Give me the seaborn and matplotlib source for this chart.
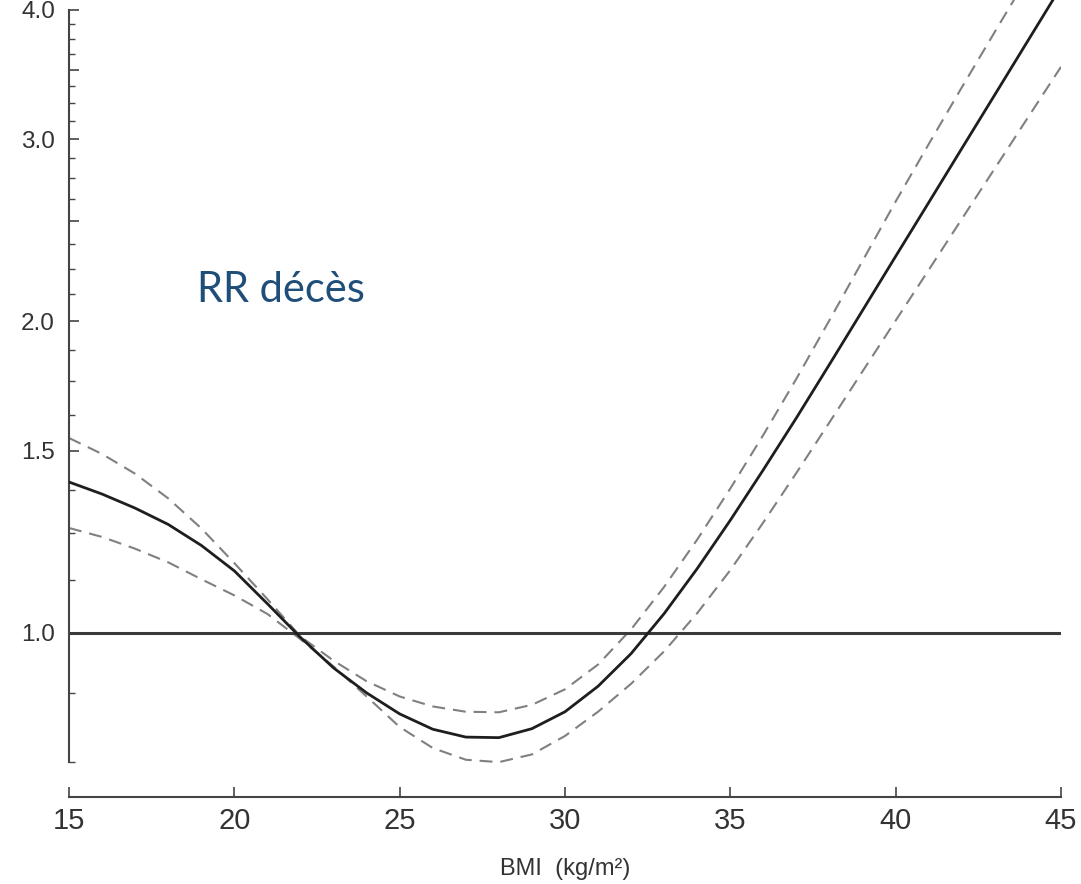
import matplotlib
matplotlib.use("Agg")
import matplotlib.pyplot as plt
import pandas as pd
import seaborn as sns

# BMI grid and relative risk of death (point estimate + 95% CI)
bmi = list(range(15, 46))
rr = [1.399, 1.362, 1.320, 1.273, 1.215, 1.148, 1.067, 0.990, 0.925, 0.875,
      0.835, 0.807, 0.793, 0.792, 0.808, 0.839, 0.888, 0.955, 1.044, 1.154,
      1.285, 1.438, 1.614, 1.818, 2.050, 2.312, 2.606, 2.939, 3.313, 3.736, 4.212]
rr_hi = [1.543, 1.489, 1.425, 1.349, 1.262, 1.168, 1.078, 0.992, 0.940, 0.898,
         0.868, 0.849, 0.839, 0.838, 0.852, 0.882, 0.932, 1.008, 1.108, 1.231,
         1.379, 1.554, 1.761, 2.006, 2.289, 2.612, 2.968, 3.367, 3.811, 4.310, 4.874]
rr_lo = [1.263, 1.238, 1.206, 1.170, 1.127, 1.087, 1.043, 0.986, 0.928, 0.868,
         0.811, 0.774, 0.754, 0.750, 0.763, 0.795, 0.839, 0.893, 0.960, 1.045,
         1.150, 1.279, 1.428, 1.598, 1.790, 2.004, 2.243, 2.512, 2.812, 3.149, 3.525]

x_ticks = [15, 20, 25, 30, 35, 40, 45]
y_ticks = [1.0, 1.5, 2.0, 2.5, 3.0, 3.5, 4.0]
y_tick_labels = ["1.0", "1.5", "2.0", "", "3.0", "", "4.0"]
y_minor = [0.75, 0.875, 1.125, 1.25, 1.375, 1.625, 1.75, 1.875,
           2.125, 2.25, 2.375, 2.625, 2.75, 2.875,
           3.125, 3.25, 3.375, 3.625, 3.75, 3.875]

df = pd.DataFrame({"bmi": bmi, "rr": rr, "hi": rr_hi, "lo": rr_lo})

sns.set_theme(style="ticks")
plt.rcParams["font.family"] = ["Liberation Sans", "DejaVu Sans"]

fig = plt.figure(figsize=(10.81, 8.84), dpi=100)
ax = fig.add_axes([69 / 1081, 1 - 797 / 884, 992 / 1081, 797 / 884])
ax.set_yscale("log")

dash = (0, (6.2, 3.8))
sns.lineplot(data=df, x="bmi", y="hi", ax=ax, estimator=None, color="#808080",
             lw=1.5, linestyle=dash)
sns.lineplot(data=df, x="bmi", y="lo", ax=ax, estimator=None, color="#808080",
             lw=1.5, linestyle=dash)
ax.axhline(1.0, color="#3a3a3a", lw=2.2, zorder=2)
sns.lineplot(data=df, x="bmi", y="rr", ax=ax, estimator=None, color="#1e1e1e",
             lw=2.0, zorder=3)

ax.set_xlim(15, 45)
ax.set_ylim(0.694, 4.09)

ax.set_xticks(x_ticks)
ax.set_xticklabels([str(t) for t in x_ticks])
ax.set_yticks(y_ticks)
ax.set_yticklabels(y_tick_labels)
ax.set_yticks(y_minor, minor=True)
ax.set_yticklabels([""] * len(y_minor), minor=True)
ax.xaxis.set_minor_locator(matplotlib.ticker.NullLocator())

for side in ["top", "right"]:
    ax.spines[side].set_visible(False)
for side in ["left", "bottom"]:
    ax.spines[side].set_color("#444444")
    ax.spines[side].set_linewidth(1.5)
ax.spines["left"].set_bounds(0.75, 4.0)
ax.spines["bottom"].set_bounds(15, 45)

ax.tick_params(axis="both", which="major", direction="in", length=7.5,
               width=1.2, color="#444444", labelcolor="#333333")
ax.tick_params(axis="y", which="minor", direction="in", length=4,
               width=1.0, color="#444444")
ax.tick_params(axis="x", labelsize=21, pad=7)
ax.tick_params(axis="y", labelsize=17.5, pad=10)

ax.set_xlabel("BMI  (kg/m²)", fontsize=17, color="#333333")
ax.xaxis.set_label_coords(0.5, -0.076)
ax.set_ylabel("")

ax.text(18.86, 2.09, "RR décès", fontsize=30, color="#1f4e79",
        family=["Lato", "DejaVu Sans"], va="baseline", ha="left")

fig.savefig("out.png", dpi=100)
